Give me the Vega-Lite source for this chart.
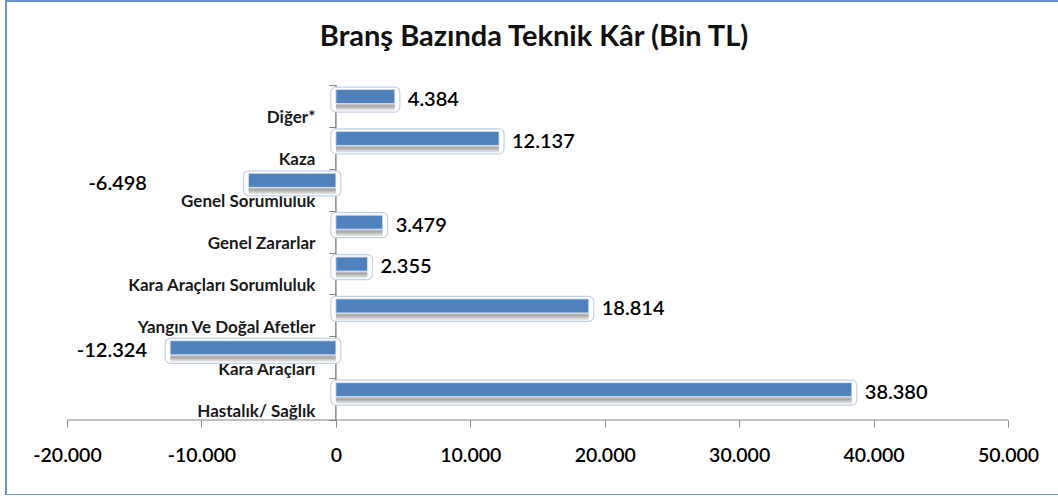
{
  "$schema": "https://vega.github.io/schema/vega-lite/v6.json",
  "width": 1056,
  "height": 494,
  "autosize": {"type": "none"},
  "padding": {"left": 6, "top": 1, "right": 0, "bottom": 0},
  "background": "white",
  "config": {
    "locale": {"number": {"decimal": ",", "thousands": ".", "grouping": [3], "currency": ["", ""], "minus": "-"}},
    "view": {"stroke": "#6b93cf", "strokeWidth": 2},
    "font": "Lato"
  },
  "title": {
    "text": "Branş Bazında Teknik Kâr (Bin TL)",
    "anchor": "middle",
    "frame": "group",
    "font": "Lato",
    "fontSize": 29,
    "fontWeight": "bold",
    "color": "#111111",
    "offset": -83,
    "baseline": "alphabetic"
  },
  "data": {
    "values": [
      {"cat": "Diğer*", "value": 4384},
      {"cat": "Kaza", "value": 12137},
      {"cat": "Genel Sorumluluk", "value": -6498},
      {"cat": "Genel Zararlar", "value": 3479},
      {"cat": "Kara Araçları Sorumluluk", "value": 2355},
      {"cat": "Yangın Ve Doğal Afetler", "value": 18814},
      {"cat": "Kara Araçları", "value": -12324},
      {"cat": "Hastalık/ Sağlık", "value": 38380}
    ]
  },
  "encoding": {
    "y": {
      "field": "cat",
      "type": "nominal",
      "sort": ["Diğer*", "Kaza", "Genel Sorumluluk", "Genel Zararlar", "Kara Araçları Sorumluluk", "Yangın Ve Doğal Afetler", "Kara Araçları", "Hastalık/ Sağlık"],
      "scale": {"paddingInner": 0, "paddingOuter": 0, "range": [84, 419]},
      "axis": {
        "title": null,
        "domain": false,
        "grid": false,
        "ticks": true,
        "tickBand": "extent",
        "tickSize": 7,
        "tickColor": "#868686",
        "labelFont": "Lato",
        "labelFontSize": 17,
        "labelFontWeight": "bold",
        "labelColor": "#1a1a1a",
        "labelOffset": 12,
        "labelPadding": 14,
        "labelLimit": 300,
        "offset": -329.9
      }
    },
    "x": {
      "field": "value",
      "type": "quantitative",
      "scale": {"domain": [-24538, 54017], "nice": false, "zero": false},
      "axis": {
        "title": null,
        "values": [-20000, -10000, 0, 10000, 20000, 30000, 40000, 50000],
        "format": ",d",
        "domain": false,
        "grid": false,
        "ticks": true,
        "tickSize": 7,
        "tickColor": "#868686",
        "labelFont": "Lato",
        "labelFontSize": 19.5,
        "labelFontWeight": 600,
        "labelColor": "#000000",
        "labelPadding": 19,
        "labelFlush": false,
        "labelOverlap": false,
        "offset": -75
      }
    }
  },
  "layer": [
    {
      "mark": {"type": "bar", "fill": null, "stroke": "#868686", "strokeWidth": 1, "height": {"band": 1}},
      "encoding": {"x": {"datum": 0, "type": "quantitative"}, "x2": {"datum": 0}}
    },
    {
      "transform": [{"filter": "datum.cat == 'Hastalık/ Sağlık'"}],
      "mark": {"type": "rule", "stroke": "#868686", "strokeWidth": 1, "yOffset": 20.94},
      "encoding": {"x": {"datum": -20000, "type": "quantitative"}, "x2": {"datum": 50000}}
    },
    {
      "transform": [{"filter": "datum.value > 0"}],
      "mark": {"type": "bar", "fill": "#ffffff", "stroke": "#c3d1e4", "strokeWidth": 1.2, "cornerRadius": 5, "height": 25, "yOffset": -6.4, "xOffset": -5, "x2Offset": 5},
      "encoding": {"x": {"datum": 0, "type": "quantitative"}, "x2": {"field": "value"}}
    },
    {
      "transform": [{"filter": "datum.value < 0"}],
      "mark": {"type": "bar", "fill": "#ffffff", "stroke": "#c3d1e4", "strokeWidth": 1.2, "cornerRadius": 5, "height": 25, "yOffset": -6.4, "xOffset": 5, "x2Offset": -5},
      "encoding": {"x": {"datum": 0, "type": "quantitative"}, "x2": {"field": "value"}}
    },
    {
      "mark": {
        "type": "bar",
        "height": 7,
        "yOffset": 1.1,
        "fill": {"gradient": "linear", "x1": 0, "y1": 0, "x2": 0, "y2": 1, "stops": [{"offset": 0, "color": "#d9d9d9"}, {"offset": 0.35, "color": "#a6a6a6"}, {"offset": 1, "color": "#ececec"}]}
      },
      "encoding": {"x": {"datum": 0, "type": "quantitative"}, "x2": {"field": "value"}}
    },
    {
      "mark": {"type": "bar", "height": 14, "yOffset": -9.4, "fill": "#4f81bd", "stroke": "#dbe5f1", "strokeWidth": 0.8},
      "encoding": {"x": {"datum": 0, "type": "quantitative"}, "x2": {"field": "value"}}
    },
    {
      "transform": [{"filter": "datum.value > 0"}],
      "mark": {"type": "text", "align": "left", "baseline": "middle", "dx": 13, "yOffset": -6, "font": "Lato", "fontSize": 20, "fontWeight": 600, "color": "#000000"},
      "encoding": {"text": {"field": "value", "type": "quantitative", "format": ",d"}}
    },
    {
      "transform": [{"filter": "datum.value < 0"}],
      "mark": {"type": "text", "align": "right", "baseline": "middle", "yOffset": -6, "font": "Lato", "fontSize": 20, "fontWeight": 600, "color": "#000000"},
      "encoding": {"x": {"datum": -14050, "type": "quantitative"}, "text": {"field": "value", "type": "quantitative", "format": ",d"}}
    }
  ]
}
